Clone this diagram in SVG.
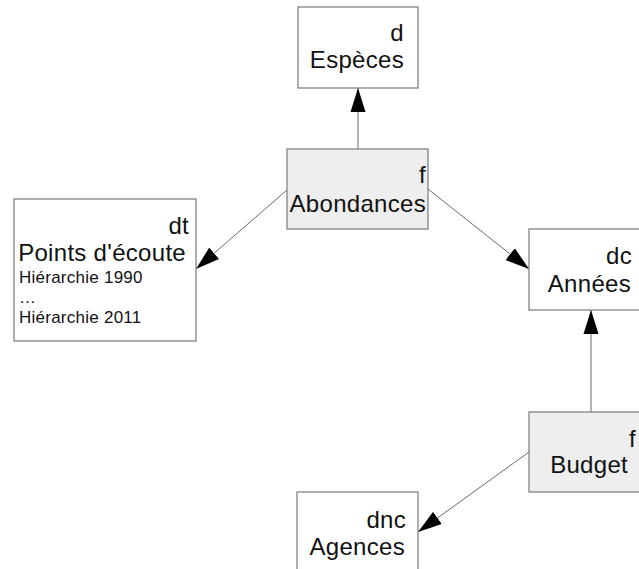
<svg xmlns="http://www.w3.org/2000/svg" width="639" height="569" viewBox="0 0 639 569">
<style>
.box{fill:#ffffff;stroke:#7a7a7a;stroke-width:1.2}
.fact{fill:#eeeeee;stroke:#7a7a7a;stroke-width:1.2}
.big{font-family:"Liberation Sans",Arial,sans-serif;font-size:24px;letter-spacing:0.3px;fill:#111}
.small{font-family:"Liberation Sans",Arial,sans-serif;font-size:17px;letter-spacing:0.25px;fill:#111}
.r{text-anchor:end}
.edge{stroke:#6a6a6a;stroke-width:1;fill:none;marker-end:url(#ah)}
</style>
<defs>
<marker id="ah" markerUnits="userSpaceOnUse" markerWidth="24" markerHeight="16" refX="24" refY="8" orient="auto" viewBox="0 0 24 16">
<path d="M0,0.5 L24,8 L0,15.5 z" fill="#000"/>
</marker>
</defs>
<rect width="639" height="569" fill="#ffffff"/>
<g id="connectors">
<line class="edge" x1="358" y1="149" x2="358" y2="88"/>
<line class="edge" x1="287" y1="190" x2="196" y2="269"/>
<line class="edge" x1="428" y1="189" x2="529" y2="269"/>
<line class="edge" x1="591" y1="412" x2="591" y2="310"/>
<line class="edge" x1="529" y1="452" x2="418" y2="532"/>
</g>
<g id="especes">
<rect class="box" x="298" y="7" width="120" height="81"/>
<text class="big r" x="404" y="41">d</text>
<text class="big r" x="404" y="68">Espèces</text>
</g>
<g id="abondances">
<rect class="fact" x="287" y="149" width="141" height="80"/>
<text class="big r" x="426" y="183">f</text>
<text class="big r" x="426" y="212">Abondances</text>
</g>
<g id="points">
<rect class="box" x="14" y="199" width="182" height="142"/>
<text class="big r" x="189" y="234">dt</text>
<text class="big r" x="186" y="261">Points d'écoute</text>
<text class="small" x="19" y="283">Hiérarchie 1990</text>
<text class="small" x="19" y="303">…</text>
<text class="small" x="19" y="323">Hiérarchie 2011</text>
</g>
<g id="annees">
<rect class="box" x="529" y="229" width="121" height="81"/>
<text class="big r" x="632" y="264">dc</text>
<text class="big r" x="631" y="292">Années</text>
</g>
<g id="budget">
<rect class="fact" x="529" y="412" width="121" height="80"/>
<text class="big r" x="636" y="447">f</text>
<text class="big r" x="628" y="473">Budget</text>
</g>
<g id="agences">
<rect class="box" x="297" y="492" width="121" height="90"/>
<text class="big r" x="406" y="528">dnc</text>
<text class="big r" x="405" y="555">Agences</text>
</g>
</svg>
